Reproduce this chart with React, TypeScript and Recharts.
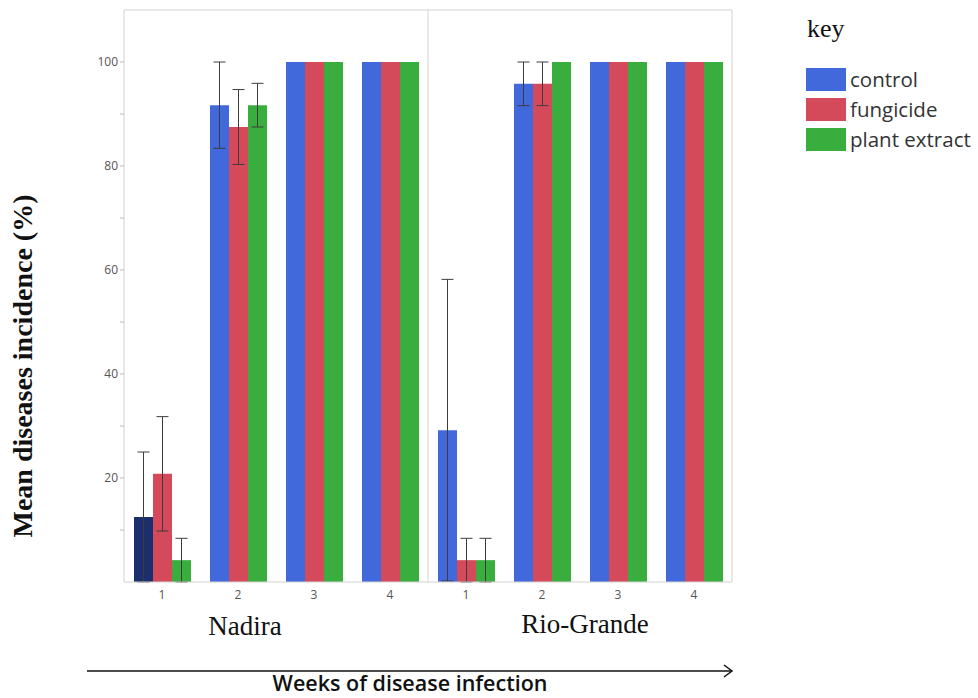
import { Bar, BarChart, Cell, ErrorBar, Legend, XAxis, YAxis } from "recharts";

const weeks = ["1", "2", "3", "4"];
const seriesNames = ["control", "fungicide", "plant extract"];

// Nadira
const nadiraControl = [12.5, 91.7, 100, 100];
const nadiraFungicide = [20.8, 87.5, 100, 100];
const nadiraPlant = [4.2, 91.7, 100, 100];
const nadiraControlErr = [12.5, 8.3, 0, 0];
const nadiraFungicideErr = [11, 7.2, 0, 0];
const nadiraPlantErr = [4.2, 4.2, 0, 0];

// Rio-Grande
const rioControl = [29.2, 95.8, 100, 100];
const rioFungicide = [4.2, 95.8, 100, 100];
const rioPlant = [4.2, 100, 100, 100];
const rioControlErr = [29, 4.2, 0, 0];
const rioFungicideErr = [4.2, 4.2, 0, 0];
const rioPlantErr = [4.2, 0, 0, 0];

const yTicks = [10, 20, 30, 40, 50, 60, 70, 80, 90, 100];

const BLUE = "#4169dc";
const NAVY = "#1b2f6e";
const RED = "#d44a5a";
const GREEN = "#3aad3f";
const FRAME = "#d2d2d2";
const ERR = "#3c3c3c";
const SANS = '"Open Sans", "Noto Sans", sans-serif';
const SERIF = '"Liberation Serif", "DejaVu Serif", serif';

function buildRows(c: number[], f: number[], p: number[], ce: number[], fe: number[], pe: number[]) {
  return weeks.map((week, i) => ({
    week,
    control: c[i],
    fungicide: f[i],
    plant: p[i],
    controlErr: ce[i],
    fungicideErr: fe[i],
    plantErr: pe[i],
  }));
}

const nadiraData = buildRows(nadiraControl, nadiraFungicide, nadiraPlant, nadiraControlErr, nadiraFungicideErr, nadiraPlantErr);
const rioData = buildRows(rioControl, rioFungicide, rioPlant, rioControlErr, rioFungicideErr, rioPlantErr);

const KeyLegend = (props: any) => {
  const payload = props.payload || [];
  return (
    <div style={{ fontFamily: SANS }}>
      <div style={{ fontFamily: SERIF, fontSize: 26, lineHeight: "30px", height: 30, color: "#111", marginBottom: 20, paddingLeft: 1 }}>
        key
      </div>
      {payload.map((entry: any) => (
        <div key={entry.value} style={{ display: "flex", alignItems: "center", height: 30 }}>
          <span style={{ display: "inline-block", width: 40, height: 23, background: entry.color, marginRight: 4 }} />
          <span style={{ fontSize: 20.5, color: "#333", lineHeight: "23px" }}>{entry.value}</span>
        </div>
      ))}
    </div>
  );
};

function Panel({ data, showY, highlight, legend }: { data: any[]; showY: boolean; highlight?: boolean; legend?: boolean }) {
  return (
    <BarChart
      width={showY ? 430 : 550}
      height={620}
      data={data}
      margin={{ top: 9, right: showY ? 1 : 245, bottom: 8, left: 0 }}
      barCategoryGap={10}
      barGap={0}
    >
      <XAxis
        dataKey="week"
        height={30}
        tickLine={false}
        axisLine={{ stroke: FRAME }}
        tick={{ fill: "#555", fontSize: 12, fontFamily: SANS }}
      />
      <XAxis xAxisId="top" orientation="top" dataKey="week" height={1} tick={false} tickLine={false} axisLine={{ stroke: FRAME }} />
      <YAxis
        hide={!showY}
        width={124}
        domain={[0, 110]}
        ticks={yTicks}
        interval={0}
        tickSize={4}
        tickFormatter={(v: number) => (v % 20 === 0 ? String(v) : "")}
        tickLine={{ stroke: "#bbb" }}
        axisLine={{ stroke: FRAME }}
        tick={{ fill: "#555", fontSize: 12, fontFamily: SANS }}
      />
      <YAxis yAxisId="right" orientation="right" width={1} domain={[0, 110]} tick={false} tickLine={false} axisLine={{ stroke: FRAME }} />
      <Bar dataKey="control" name={seriesNames[0]} fill={BLUE} isAnimationActive={false}>
        {data.map((_, i) => (
          <Cell key={i} fill={highlight && i === 0 ? NAVY : BLUE} />
        ))}
        <ErrorBar dataKey="controlErr" width={6} stroke={ERR} strokeWidth={1} />
      </Bar>
      <Bar dataKey="fungicide" name={seriesNames[1]} fill={RED} isAnimationActive={false}>
        <ErrorBar dataKey="fungicideErr" width={6} stroke={ERR} strokeWidth={1} />
      </Bar>
      <Bar dataKey="plant" name={seriesNames[2]} fill={GREEN} isAnimationActive={false}>
        <ErrorBar dataKey="plantErr" width={6} stroke={ERR} strokeWidth={1} />
      </Bar>
      {legend && (
        <Legend
          layout="vertical"
          align="center"
          verticalAlign="middle"
          content={<KeyLegend />}
          wrapperStyle={{ left: 378, top: 14, width: 180, height: "auto" }}
        />
      )}
    </BarChart>
  );
}

export default function App() {
  return (
    <div style={{ position: "absolute", left: 0, top: 0, width: 978, height: 698, background: "#fff", overflow: "hidden" }}>
      <div style={{ position: "absolute", left: 0, top: 0 }}>
        <Panel data={nadiraData} showY highlight />
      </div>
      <div style={{ position: "absolute", left: 428, top: 0 }}>
        <Panel data={rioData} showY={false} legend />
      </div>
      <svg width={978} height={698} style={{ position: "absolute", left: 0, top: 0, pointerEvents: "none" }}>
        <text
          x={32}
          y={366}
          transform="rotate(-90, 32, 366)"
          textAnchor="middle"
          fontFamily={SERIF}
          fontWeight="bold"
          fontSize={28}
          fill="#111"
        >
          Mean diseases incidence (%)
        </text>
        <text x={245} y={635} textAnchor="middle" fontFamily={SERIF} fontSize={27} fill="#111">
          Nadira
        </text>
        <text x={585} y={633} textAnchor="middle" fontFamily={SERIF} fontSize={27} fill="#111">
          Rio-Grande
        </text>
        <line x1={87} y1={671} x2={732} y2={671} stroke="#111" strokeWidth={1.5} />
        <polyline points="724,665 732,671 724,677" fill="none" stroke="#111" strokeWidth={1.5} />
        <text x={410} y={691} textAnchor="middle" fontFamily={SANS} fontWeight={600} fontSize={21.5} fill="#111">
          Weeks of disease infection
        </text>
      </svg>
    </div>
  );
}
